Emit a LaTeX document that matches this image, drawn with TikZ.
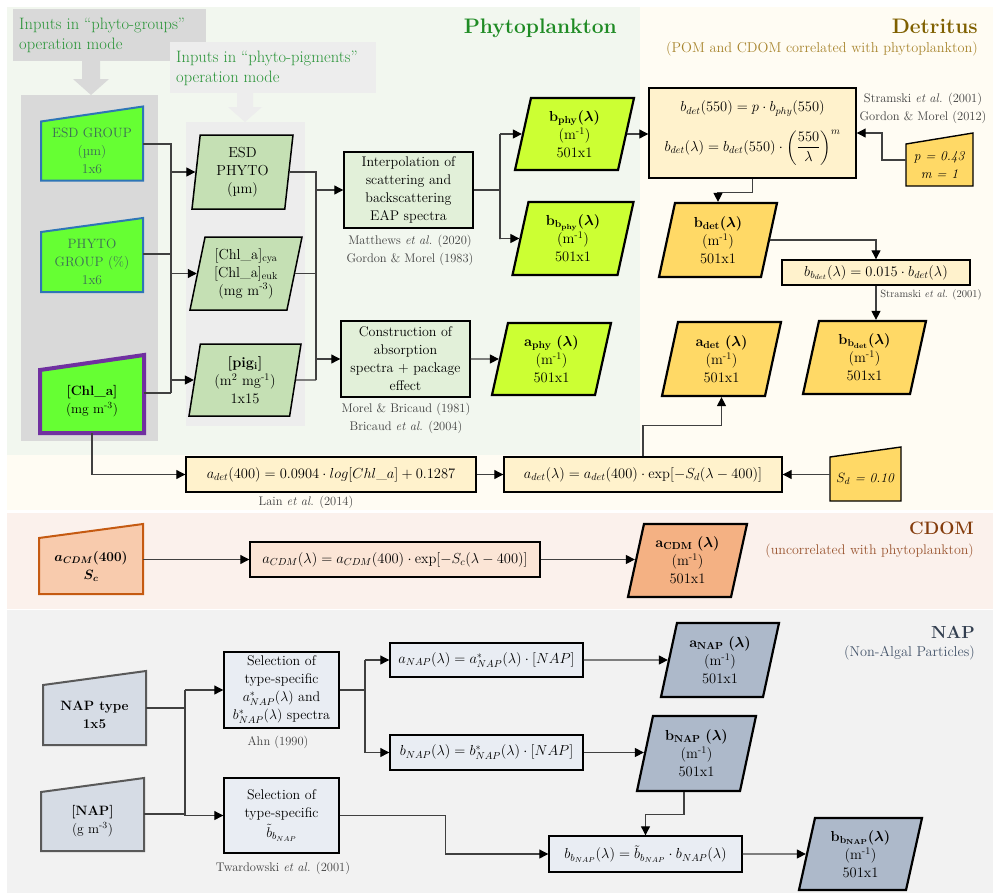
\RequirePackage{fix-cm}
\documentclass[tikz,border=0pt]{standalone}
\usepackage{amsmath}
\usetikzlibrary{arrows.meta,shapes.geometric,calc}
\pgfdeclarelayer{bg}\pgfdeclarelayer{mid}
\pgfsetlayers{bg,mid,main}
\definecolor{phybg}{HTML}{F2F7EF}
\definecolor{detbg}{HTML}{FFFCF3}
\definecolor{cdombg}{HTML}{FBF1EC}
\definecolor{napbg}{HTML}{F2F2F2}
\definecolor{grpgray}{HTML}{D9D9D9}
\definecolor{pigray}{HTML}{EDEDED}
\definecolor{lblgreen}{HTML}{2A9438}
\definecolor{phytitle}{HTML}{1F8B24}
\definecolor{brgreen}{HTML}{66FF33}
\definecolor{bluebd}{HTML}{2E75B6}
\definecolor{purplebd}{HTML}{7030A0}
\definecolor{pigfill}{HTML}{C5E0B4}
\definecolor{procgreen}{HTML}{E2F0D9}
\definecolor{yg}{HTML}{CCFF33}
\definecolor{deteq}{HTML}{FFF2CC}
\definecolor{detout}{HTML}{FFD966}
\definecolor{cdomin}{HTML}{F8CBAD}
\definecolor{cdombd}{HTML}{C55A11}
\definecolor{cdomeq}{HTML}{FBE5D6}
\definecolor{cdomout}{HTML}{F4B183}
\definecolor{napin}{HTML}{D6DCE5}
\definecolor{napbd}{HTML}{595959}
\definecolor{napeq}{HTML}{E9EDF3}
\definecolor{napout}{HTML}{ADB9CA}
\definecolor{grptext}{HTML}{3D6B57}
\definecolor{refcol}{HTML}{404040}
\definecolor{lncol}{HTML}{404040}
\definecolor{dettitle}{HTML}{7F6000}
\definecolor{detsub}{HTML}{A8852E}
\definecolor{cdomtitle}{HTML}{843C0C}
\definecolor{cdomsub}{HTML}{9A5530}
\definecolor{naptitle}{HTML}{333F50}
\definecolor{napsub}{HTML}{44546A}
\newcommand\bq[1]{{\boldmath$#1$}}
\newcommand\maninp[5]{\begin{pgfonlayer}{mid}\draw[fill=#3,draw=#4,line width=#5,line join=miter](#1.south west)--(#1.south east)--([yshift=#2]#1.north east)--(#1.north west)--cycle;\end{pgfonlayer}}
\tikzset{
  ln/.style={draw=lncol, line width=1.1pt},
  arr/.style={ln, -{Triangle[length=9pt,width=9pt,color=black]}},
  txt/.style={font=\fontsize{14}{18}\selectfont, align=center},
  manin/.style={font=\fontsize{13.5}{18}\selectfont, align=center, inner sep=0pt, outer sep=0pt},
  proc/.style={txt, draw=black, line width=1.4pt, inner sep=2pt},
  eqbox/.style={font=\fontsize{14.5}{18}\selectfont, align=center, draw=black, line width=1.4pt, fill=deteq, inner sep=2pt},
  pgram/.style={font=\fontsize{14.5}{18}\selectfont, align=center, trapezium, trapezium left angle=72, trapezium right angle=108, trapezium stretches body, draw=black, line width=2.2pt, inner sep=1pt},
  reftext/.style={font=\fontsize{12.5}{18}\selectfont, text=refcol, align=center},
  lbl/.style={font=\fontsize{16.5}{20}\selectfont, text=lblgreen, align=left, inner sep=0pt, anchor=west},
  ttl/.style={font=\fontsize{21}{24}\bfseries\selectfont, anchor=east, inner sep=0pt},
  sub/.style={font=\fontsize{14.3}{16}\selectfont, anchor=east, inner sep=0pt}
}
\begin{document}
\begin{tikzpicture}[x=1pt,y=-1pt]
\useasboundingbox (0,0) rectangle (997,895);
\begin{pgfonlayer}{bg}
\fill[white] (0,0) rectangle (997,895);
\fill[detbg] (7,7) rectangle (993,510);
\fill[phybg] (7,7) rectangle (640,455);
\fill[cdombg] (7,513) rectangle (993,609);
\fill[napbg] (7,610) rectangle (993,893);
\fill[grpgray] (13,9) rectangle (206,61);
\fill[grpgray] (82,61) -- (100,61) -- (100,79) -- (109,79) -- (91,95) -- (73,79) -- (82,79) -- cycle;
\fill[grpgray] (21,95) rectangle (158,441);
\fill[pigray] (170,42) rectangle (376,93);
\fill[pigray] (237,93) -- (253,93) -- (253,107) -- (262,107) -- (245,122) -- (228,107) -- (237,107) -- cycle;
\fill[pigray] (186,122) rectangle (305,426);
\end{pgfonlayer}

% labels and titles
\node[lbl] (lblg) at (19,35) {Inputs in “phyto-groups”\\operation mode};
\node[lbl] (lblp) at (176,68) {Inputs in “phyto-pigments”\\operation mode};
\node[ttl, text=phytitle] (tphy) at (617,28) {Phytoplankton};
\node[ttl, text=dettitle] (tdet) at (978,26) {Detritus};
\node[sub, text=detsub] (sdet) at (978,49) {(POM and CDOM correlated with phytoplankton)};
\node[ttl, text=cdomtitle, font=\fontsize{18}{22}\bfseries\selectfont] (tcdom) at (974,528) {CDOM};
\node[sub, text=cdomsub, font=\fontsize{14}{16}\selectfont] (scdom) at (974,551) {(uncorrelated with phytoplankton)};
\node[ttl, text=naptitle, font=\fontsize{17.5}{22}\bfseries\selectfont] (tnap) at (975,632) {NAP};
\node[sub, text=napsub] (snap) at (975,653) {(Non-Algal Particles)};

% phyto-groups inputs
\node[manin, minimum width=102pt, minimum height=59pt, text=grptext] (ESDG) at (92,151) {ESD GROUP\\(µm)\\1x6};
\maninp{ESDG}{15pt}{brgreen}{bluebd}{2pt}
\node[manin, minimum width=102pt, minimum height=60pt, text=grptext] (PHG) at (92,262) {PHYTO\\GROUP (\%)\\1x6};
\maninp{PHG}{14pt}{brgreen}{bluebd}{2pt}
\node[manin, minimum width=104pt, minimum height=63pt] (CHL) at (92,401.5) {\textbf{[Chl\_a]}\\(mg m\textsuperscript{-3})};
\maninp{CHL}{15pt}{brgreen}{purplebd}{4pt}

% phyto-pigments inputs
\node[pgram, fill=pigfill, line width=1.5pt, trapezium left angle=81, trapezium right angle=99, minimum width=101pt, minimum height=74pt] (ESDP) at (242.5,172) {ESD\\PHYTO\\(µm)};
\node[pgram, fill=pigfill, line width=1.5pt, trapezium left angle=74, trapezium right angle=106, minimum width=112pt, minimum height=73pt] (CHLP) at (246,273.5) {{}[Chl\_a]\textsubscript{cya}\\{}[Chl\_a]\textsubscript{euk}\\(mg m\textsuperscript{-3})};
\node[pgram, fill=pigfill, line width=1.5pt, trapezium left angle=77, trapezium right angle=103, minimum width=112pt, minimum height=72pt] (PIG) at (245,380) {\textbf{[pig\textsubscript{i}]}\\(m\textsuperscript{2} mg\textsuperscript{-1})\\1x15};

% phyto processes
\node[proc, fill=procgreen, minimum width=129pt, minimum height=76pt] (INTERP) at (408.5,190) {Interpolation of\\scattering and\\backscattering\\EAP spectra};
\node[proc, fill=procgreen, minimum width=129pt, minimum height=76pt] (CONSTR) at (405.5,359) {Construction of\\absorption\\spectra + package\\effect};
\node[reftext] (rInterp) at (410,250) {Matthews \textit{et al.} (2020)\\Gordon \& Morel (1983)};
\node[reftext] (rConstr) at (406,418) {Morel \& Bricaud (1981)\\Bricaud \textit{et al.} (2004)};

% phyto outputs
\node[pgram, fill=yg, minimum width=119pt, minimum height=72pt] (BPHY) at (574.5,134) {\bq{\mathrm{b}_{\mathrm{phy}}(\lambda)}\\(m\textsuperscript{-1})\\501x1};
\node[pgram, fill=yg, minimum width=121pt, minimum height=73pt] (BBPHY) at (573,238.5) {\bq{\mathrm{b}_{\mathrm{b}_{\mathrm{phy}}}(\lambda)}\\(m\textsuperscript{-1})\\501x1};
\node[pgram, fill=yg, minimum width=119pt, minimum height=72pt] (APHY) at (551.5,359) {\bq{\mathrm{a}_{\mathrm{phy}}\ (\lambda)}\\(m\textsuperscript{-1})\\501x1};

% detritus
\node[eqbox, minimum width=207pt, minimum height=90pt] (BDETEQ) at (752.5,133) {$b_{det}(550)=p\cdot b_{phy}(550)$\\[13pt]$b_{det}(\lambda)=b_{det}(550)\cdot\left(\dfrac{550}{\lambda}\right)^{m}$};
\node[reftext] (rBdet) at (923,108.5) {Stramski \textit{et al.} (2001)\\Gordon \& Morel (2012)};
\node[manin, minimum width=67pt, minimum height=42pt] (PM) at (939.5,165) {\textit{p = 0.43}\\\textit{m = 1}};
\maninp{PM}{11pt}{detout}{black}{1.4pt}
\node[pgram, fill=detout, minimum width=118pt, minimum height=74pt] (BDET) at (718,240) {\bq{\mathrm{b}_{\mathrm{det}}(\lambda)}\\(m\textsuperscript{-1})\\501x1};
\node[eqbox, minimum width=188pt, minimum height=25pt] (BBDETEQ) at (876,272.5) {$b_{b_{det}}(\lambda)=0.015\cdot b_{det}(\lambda)$};
\node[reftext, font=\fontsize{10.5}{12}\selectfont] (rBbdet) at (931,295) {Stramski \textit{et al.} (2001)};
\node[pgram, fill=detout, minimum width=123pt, minimum height=73pt] (BBDET) at (864.5,357.5) {\bq{\mathrm{b}_{\mathrm{b}_{\mathrm{det}}}(\lambda)}\\(m\textsuperscript{-1})\\501x1};
\node[pgram, fill=detout, minimum width=119pt, minimum height=74pt] (ADET) at (721.5,359) {\bq{\mathrm{a}_{\mathrm{det}}\ (\lambda)}\\(m\textsuperscript{-1})\\501x1};
\node[eqbox, minimum width=290pt, minimum height=35pt] (ADET400) at (331,474.5) {$a_{det}(400)=0.0904\cdot log[Chl\_a]+0.1287$};
\node[reftext] (rLain) at (306,502) {Lain \textit{et al.} (2014)};
\node[eqbox, minimum width=278pt, minimum height=35pt] (ADETL) at (643,474.5) {$a_{det}(\lambda)=a_{det}(400)\cdot\exp[-S_d(\lambda-400)]$};
\node[manin, minimum width=71pt, minimum height=44pt] (SD) at (865.5,479) {$S_d$\textit{ = 0.10}};
\maninp{SD}{10pt}{detout}{black}{1.4pt}

% CDOM
\node[manin, minimum width=104pt, minimum height=56pt] (ACDMIN) at (91,566) {\bq{a_{CDM}(400)}\\\bq{S_c}};
\maninp{ACDMIN}{14pt}{cdomin}{cdombd}{2pt}
\node[eqbox, fill=cdomeq, minimum width=290pt, minimum height=35pt] (ACDMEQ) at (395,559.5) {$a_{CDM}(\lambda)=a_{CDM}(400)\cdot\exp[-S_c(\lambda-400)]$};
\node[pgram, fill=cdomout, minimum width=119pt, minimum height=73pt] (ACDM) at (687.5,560.5) {\bq{\mathrm{a}_{\mathrm{CDM}}\ (\lambda)}\\(m\textsuperscript{-1})\\501x1};

% NAP
\node[manin, minimum width=103pt, minimum height=60pt] (NAPT) at (94.5,715) {\textbf{NAP type}\\\textbf{1x5}};
\maninp{NAPT}{14pt}{napin}{napbd}{2pt}
\node[manin, minimum width=103pt, minimum height=59pt] (NAPC) at (92.5,821.5) {\textbf{[NAP]}\\(g m\textsuperscript{-3})};
\maninp{NAPC}{14pt}{napin}{napbd}{2pt}
\node[proc, fill=napeq, minimum width=115pt, minimum height=76pt] (SEL1) at (281.5,690) {Selection of\\type-specific\\$a^{*}_{NAP}(\lambda)$ and\\$b^{*}_{NAP}(\lambda)$ spectra};
\node[reftext] (rAhn) at (278,742) {Ahn (1990)};
\node[proc, fill=napeq, minimum width=115pt, minimum height=75pt] (SEL2) at (281.5,815.5) {Selection of\\type-specific\\[2pt]$\tilde{b}_{b_{NAP}}$};
\node[reftext] (rTw) at (283,868) {Twardowski \textit{et al.} (2001)};
\node[eqbox, fill=napeq, minimum width=193pt, minimum height=34pt] (ANAPEQ) at (486.5,660) {$a_{NAP}(\lambda)=a^{*}_{NAP}(\lambda)\cdot[NAP]$};
\node[eqbox, fill=napeq, minimum width=193pt, minimum height=35pt] (BNAPEQ) at (486.5,752.5) {$b_{NAP}(\lambda)=b^{*}_{NAP}(\lambda)\cdot[NAP]$};
\node[pgram, fill=napout, minimum width=118pt, minimum height=74pt] (ANAP) at (720,660) {\bq{\mathrm{a}_{\mathrm{NAP}}\ (\lambda)}\\(m\textsuperscript{-1})\\501x1};
\node[pgram, fill=napout, minimum width=119pt, minimum height=75pt] (BNAP) at (696.5,753.5) {\bq{\mathrm{b}_{\mathrm{NAP}}\ (\lambda)}\\(m\textsuperscript{-1})\\501x1};
\node[eqbox, fill=napeq, minimum width=193pt, minimum height=36pt] (BBNAPEQ) at (645.5,854) {$b_{b_{NAP}}(\lambda)=\tilde{b}_{b_{NAP}}\cdot b_{NAP}(\lambda)$};
\node[pgram, fill=napout, minimum width=123pt, minimum height=72pt] (BBNAP) at (860.5,854) {\bq{\mathrm{b}_{\mathrm{b}_{\mathrm{NAP}}}(\lambda)}\\(m\textsuperscript{-1})\\501x1};

% ---------- connectors ----------
\coordinate (busA) at (171,393);
\coordinate (busB) at (316,380);
\coordinate (busC) at (500,238.5);
\coordinate (busD) at (185,816);
\coordinate (busE) at (365,752.5);
\draw[ln] ([yshift=7pt]ESDG.east) -| (busA);
\draw[ln] ([yshift=8pt]PHG.east) -- ++(28,0);
\draw[ln] ([yshift=8.5pt]CHL.east) -- (busA);
\draw[arr] (busA |- ESDP.west) -- (ESDP.west);
\draw[arr] (busA |- CHLP.west) -- (CHLP.west);
\draw[arr] (busA |- PIG.west) -- (PIG.west);
\draw[ln] (ESDP.east) -| (busB);
\draw[ln] (CHLP.east) -- (CHLP.east -| busB);
\draw[ln] (PIG.east) -- (busB);
\draw[arr] (busB |- INTERP.west) -- (INTERP.west);
\draw[arr] (busB |- CONSTR.west) -- (CONSTR.west);
\draw[ln] (INTERP.east) -- (INTERP.east -| busC);
\draw[arr] (busC |- BPHY.west) -- (BPHY.west);
\draw[arr] (busC) |- (BBPHY.west);
\draw[ln] (busC) -- (busC |- BPHY.west);
\draw[arr] (CONSTR.east) -- (APHY.west);
\draw[arr] (BPHY.east) -- (BPHY.east -| BDETEQ.west);
\draw[arr] ([yshift=5pt]PM.west) -- ++(-24,0) |- (BDETEQ.east);
\draw[arr] (BDETEQ.south) -- ++(0,14) -| (BDET.north);
\draw[arr] (BDET.east) -| (BBDETEQ.north);
\draw[arr] (BBDETEQ.south) -- (BBDETEQ.south |- BBDET.north);
\draw[arr] (CHL.south) |- (ADET400.west);
\draw[arr] (ADET400.east) -- (ADETL.west);
\draw[arr] (SD.west |- ADETL.east) -- (ADETL.east);
\draw[arr] (ADETL.north) -- ++(0,-31) -| (ADET.south);
\draw[arr] (ACDMIN.east |- ACDMEQ.west) -- (ACDMEQ.west);
\draw[arr] (ACDMEQ.east) -- (ACDMEQ.east -| ACDM.west);
\draw[ln] ([yshift=7pt]NAPT.east) -- ++(39,0);
\draw[ln] ([yshift=7.5pt]NAPC.east) -- ++(41,0);
\draw[arr] (busD |- SEL1.west) -- (SEL1.west);
\draw[arr] (busD |- SEL2.west) -- (SEL2.west);
\draw[ln] (busD |- SEL1.west) -- (busD);
\draw[ln] (SEL1.east) -- (SEL1.east -| busE);
\draw[arr] (busE |- ANAPEQ.west) -- (ANAPEQ.west);
\draw[arr] (busE) -- (BNAPEQ.west);
\draw[ln] (busE) -- (busE |- ANAPEQ.west);
\draw[arr] (ANAPEQ.east) -- (ANAP.west);
\draw[arr] (BNAPEQ.east) -- (BNAPEQ.east -| BNAP.west);
\draw[arr] ([xshift=-12.5pt]BNAP.south) -- ++(0,22) -| (BBNAPEQ.north);
\draw[arr] (SEL2.east) -- ++(106,0) |- (BBNAPEQ.west);
\draw[arr] (BBNAPEQ.east) -- (BBNAP.west);
\end{tikzpicture}
\end{document}
